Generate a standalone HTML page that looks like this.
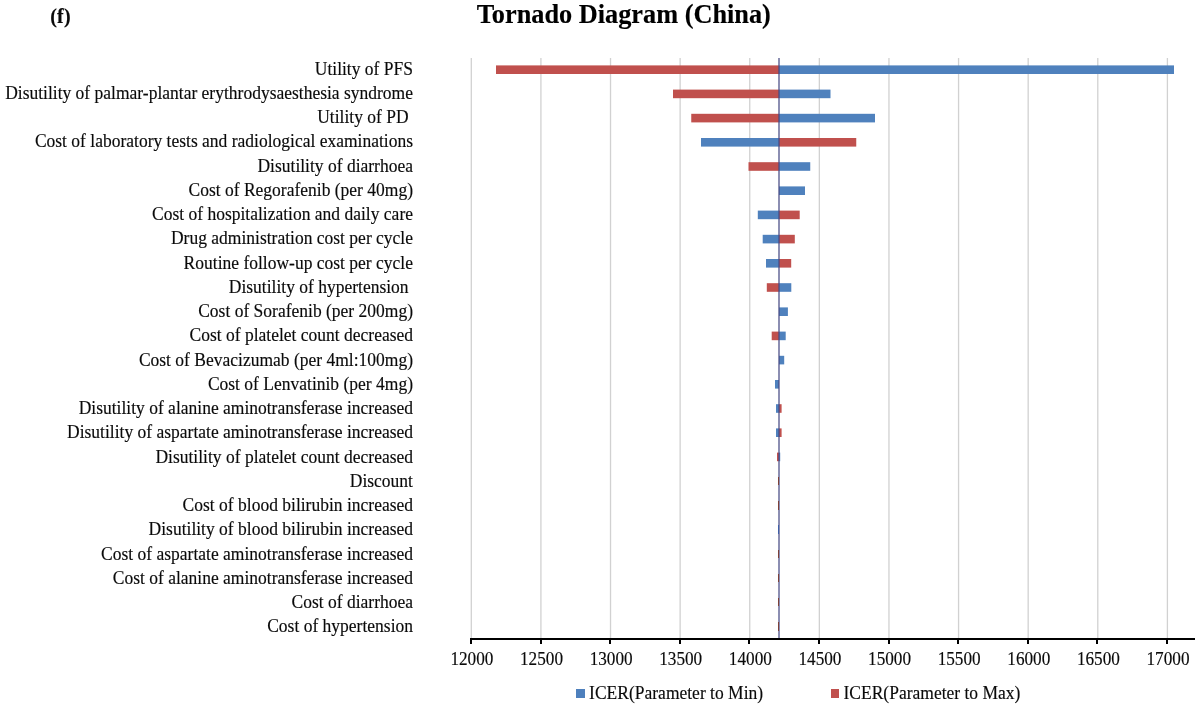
<!DOCTYPE html>
<html lang="en">
<head>
<meta charset="utf-8">
<title>Tornado Diagram (China)</title>
<style>
html,body{margin:0;padding:0;background:#fff;}
body{width:1200px;height:707px;position:relative;overflow:hidden;font-family:"Liberation Serif","Times New Roman",serif;color:#0a0a0a;-webkit-text-stroke:0.15px #0a0a0a;}
.a{position:absolute;}
.g{position:absolute;top:58px;height:580px;width:3px;}
.b{position:absolute;height:8.6px;background:#4e80bd;}
.r{position:absolute;height:8.6px;background:#c0504d;}
.l{position:absolute;left:0;width:413px;text-align:right;font-size:17.5px;line-height:20px;height:20px;white-space:pre;transform:scaleY(1.035);transform-origin:0 15.8px;}
.x{position:absolute;width:70px;text-align:center;font-size:17.2px;line-height:20px;height:20px;top:649.9px;transform:scaleY(1.10);transform-origin:0 15.6px;}
.t{position:absolute;width:2px;height:5.7px;top:638px;background:#000;}
.lg{position:absolute;font-size:17.5px;line-height:20px;height:20px;white-space:pre;transform:scaleY(1.07);transform-origin:0 15.8px;}
</style>
</head>
<body>
<div class="a" style="left:50.2px;top:4.3px;font-weight:bold;font-size:20px;letter-spacing:0.2px;line-height:24px;white-space:pre;">(f)</div>
<div class="a" style="left:323.8px;width:600px;text-align:center;top:-0.3px;font-weight:bold;font-size:26.3px;line-height:30px;white-space:pre;color:#000;">Tornado Diagram (China)</div>
<div class="g" style="left:470px;background:linear-gradient(to right,#efefef 0 1px,#d3d3d3 1px 2px,#ffffff 2px 3px)"></div>
<div class="g" style="left:540px;background:linear-gradient(to right,#dddddd 0 1px,#e5e5e5 1px 2px,#ffffff 2px 3px)"></div>
<div class="g" style="left:609px;background:linear-gradient(to right,#f9f9f9 0 1px,#d1d1d1 1px 2px,#f7f7f7 2px 3px)"></div>
<div class="g" style="left:679px;background:linear-gradient(to right,#e7e7e7 0 1px,#dbdbdb 1px 2px,#ffffff 2px 3px)"></div>
<div class="g" style="left:749px;background:linear-gradient(to right,#d5d5d5 0 1px,#ededed 1px 2px,#ffffff 2px 3px)"></div>
<div class="g" style="left:818px;background:linear-gradient(to right,#f1f1f1 0 1px,#d1d1d1 1px 2px,#ffffff 2px 3px)"></div>
<div class="g" style="left:888px;background:linear-gradient(to right,#dfdfdf 0 1px,#e3e3e3 1px 2px,#ffffff 2px 3px)"></div>
<div class="g" style="left:957px;background:linear-gradient(to right,#fbfbfb 0 1px,#d1d1d1 1px 2px,#f5f5f5 2px 3px)"></div>
<div class="g" style="left:1027px;background:linear-gradient(to right,#e9e9e9 0 1px,#d9d9d9 1px 2px,#ffffff 2px 3px)"></div>
<div class="g" style="left:1097px;background:linear-gradient(to right,#d7d7d7 0 1px,#ebebeb 1px 2px,#ffffff 2px 3px)"></div>
<div class="g" style="left:1166px;background:linear-gradient(to right,#f4f4f4 0 1px,#d1d1d1 1px 2px,#fdfdfd 2px 3px)"></div>
<div class="l" style="top:58.65px">Utility of PFS</div>
<div class="l" style="top:82.90px">Disutility of palmar-plantar erythrodysaesthesia syndrome</div>
<div class="l" style="top:107.14px">Utility of PD </div>
<div class="l" style="top:131.39px">Cost of laboratory tests and radiological examinations</div>
<div class="l" style="top:155.63px">Disutility of diarrhoea</div>
<div class="l" style="top:179.88px">Cost of Regorafenib (per 40mg)</div>
<div class="l" style="top:204.12px">Cost of hospitalization and daily care</div>
<div class="l" style="top:228.37px">Drug administration cost per cycle</div>
<div class="l" style="top:252.61px">Routine follow-up cost per cycle</div>
<div class="l" style="top:276.86px">Disutility of hypertension </div>
<div class="l" style="top:301.10px">Cost of Sorafenib (per 200mg)</div>
<div class="l" style="top:325.34px">Cost of platelet count decreased</div>
<div class="l" style="top:349.59px">Cost of Bevacizumab (per 4ml:100mg)</div>
<div class="l" style="top:373.83px">Cost of Lenvatinib (per 4mg)</div>
<div class="l" style="top:398.08px">Disutility of alanine aminotransferase increased</div>
<div class="l" style="top:422.32px">Disutility of aspartate aminotransferase increased</div>
<div class="l" style="top:446.57px">Disutility of platelet count decreased</div>
<div class="l" style="top:470.81px">Discount</div>
<div class="l" style="top:495.06px">Cost of blood bilirubin increased</div>
<div class="l" style="top:519.30px">Disutility of blood bilirubin increased</div>
<div class="l" style="top:543.55px">Cost of aspartate aminotransferase increased</div>
<div class="l" style="top:567.79px">Cost of alanine aminotransferase increased</div>
<div class="l" style="top:592.04px">Cost of diarrhoea</div>
<div class="l" style="top:616.28px">Cost of hypertension</div>
<svg class="a" style="left:0;top:0" width="1200" height="707" viewBox="0 0 1200 707">
<rect x="496.00" y="65.40" width="283.00" height="8.60" fill="#c0504d"/>
<rect x="779.00" y="65.40" width="395.00" height="8.60" fill="#4f81bd"/>
<rect x="673.00" y="89.60" width="106.00" height="8.60" fill="#c0504d"/>
<rect x="779.00" y="89.60" width="51.50" height="8.60" fill="#4f81bd"/>
<rect x="691.25" y="113.80" width="87.75" height="8.60" fill="#c0504d"/>
<rect x="779.00" y="113.80" width="96.00" height="8.60" fill="#4f81bd"/>
<rect x="701.00" y="138.00" width="78.00" height="8.60" fill="#4f81bd"/>
<rect x="779.00" y="138.00" width="77.25" height="8.60" fill="#c0504d"/>
<rect x="748.50" y="162.20" width="30.50" height="8.60" fill="#c0504d"/>
<rect x="779.00" y="162.20" width="31.25" height="8.60" fill="#4f81bd"/>
<rect x="779.00" y="186.40" width="26.00" height="8.60" fill="#4f81bd"/>
<rect x="757.80" y="210.60" width="21.20" height="8.60" fill="#4f81bd"/>
<rect x="779.00" y="210.60" width="20.70" height="8.60" fill="#c0504d"/>
<rect x="762.70" y="234.80" width="16.30" height="8.60" fill="#4f81bd"/>
<rect x="779.00" y="234.80" width="15.80" height="8.60" fill="#c0504d"/>
<rect x="766.00" y="259.00" width="13.00" height="8.60" fill="#4f81bd"/>
<rect x="779.00" y="259.00" width="12.20" height="8.60" fill="#c0504d"/>
<rect x="766.80" y="283.20" width="12.20" height="8.60" fill="#c0504d"/>
<rect x="779.00" y="283.20" width="12.30" height="8.60" fill="#4f81bd"/>
<rect x="779.00" y="307.40" width="8.90" height="8.60" fill="#4f81bd"/>
<rect x="771.70" y="331.60" width="7.30" height="8.60" fill="#c0504d"/>
<rect x="779.00" y="331.60" width="6.70" height="8.60" fill="#4f81bd"/>
<rect x="779.00" y="355.80" width="5.20" height="8.60" fill="#4f81bd"/>
<rect x="775.00" y="380.00" width="4.00" height="8.60" fill="#4f81bd"/>
<rect x="776.00" y="404.20" width="3.00" height="8.60" fill="#4f81bd"/>
<rect x="779.00" y="404.20" width="2.60" height="8.60" fill="#c0504d"/>
<rect x="776.00" y="428.40" width="3.00" height="8.60" fill="#4f81bd"/>
<rect x="779.00" y="428.40" width="2.60" height="8.60" fill="#c0504d"/>
<rect x="777.00" y="452.60" width="2.00" height="8.60" fill="#c0504d"/>
<rect x="779.00" y="452.60" width="1.20" height="8.60" fill="#4f81bd"/>
</svg>
<div class="a" style="left:778px;top:57.5px;width:2px;height:581px;background:rgba(70,72,130,.62)"></div>
<div class="a" style="left:778px;top:476.90px;width:1px;height:8.6px;background:#7d4038"></div>
<div class="a" style="left:778px;top:501.10px;width:1px;height:8.6px;background:#7d4038"></div>
<div class="a" style="left:778px;top:525.30px;width:1px;height:8.6px;background:#3f5fa8"></div>
<div class="a" style="left:778px;top:549.50px;width:1px;height:8.6px;background:#7d4038"></div>
<div class="a" style="left:778px;top:573.70px;width:1px;height:8.6px;background:#7d4038"></div>
<div class="a" style="left:778px;top:597.90px;width:1px;height:8.6px;background:#7d4038"></div>
<div class="a" style="left:778px;top:622.10px;width:1px;height:8.6px;background:#7d4038"></div>
<div class="a" style="left:470px;top:637.8px;width:725.20px;height:2.2px;background:#000"></div>
<div class="t" style="left:470.00px"></div>
<div class="x" style="left:436.90px">12000</div>
<div class="t" style="left:539.61px"></div>
<div class="x" style="left:506.51px">12500</div>
<div class="t" style="left:609.22px"></div>
<div class="x" style="left:576.12px">13000</div>
<div class="t" style="left:678.83px"></div>
<div class="x" style="left:645.73px">13500</div>
<div class="t" style="left:748.44px"></div>
<div class="x" style="left:715.34px">14000</div>
<div class="t" style="left:818.05px"></div>
<div class="x" style="left:784.95px">14500</div>
<div class="t" style="left:887.66px"></div>
<div class="x" style="left:854.56px">15000</div>
<div class="t" style="left:957.27px"></div>
<div class="x" style="left:924.17px">15500</div>
<div class="t" style="left:1026.88px"></div>
<div class="x" style="left:993.78px">16000</div>
<div class="t" style="left:1096.49px"></div>
<div class="x" style="left:1063.39px">16500</div>
<div class="t" style="left:1166.10px"></div>
<div class="x" style="left:1133.00px">17000</div>
<div class="b" style="left:576.2px;top:689px;width:8.7px;height:8.7px"></div>
<div class="lg" style="left:589.1px;top:683.1px">ICER(Parameter to Min)</div>
<div class="r" style="left:830.6px;top:689px;width:8.7px;height:8.7px"></div>
<div class="lg" style="left:843.5px;top:683.1px">ICER(Parameter to Max)</div>
</body>
</html>
